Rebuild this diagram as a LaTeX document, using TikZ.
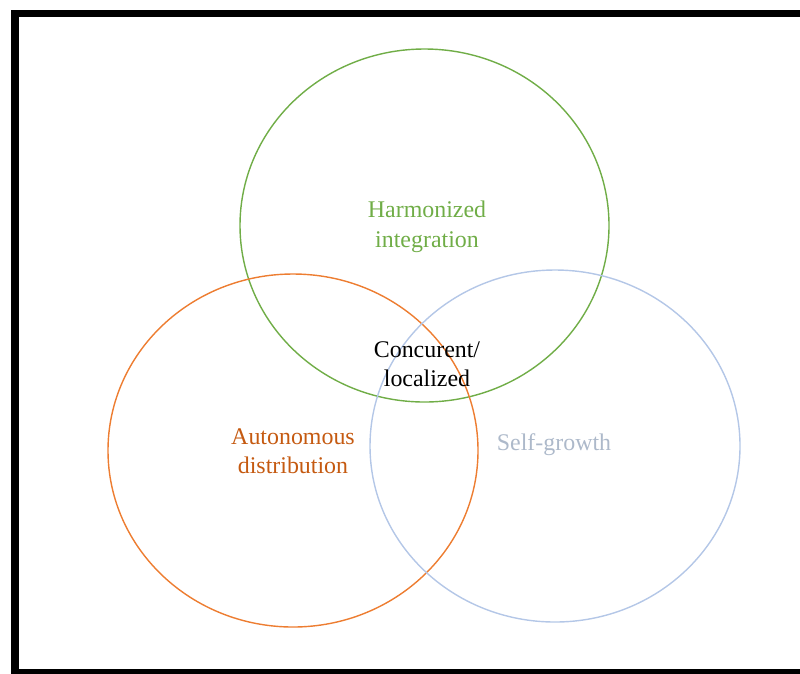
\documentclass[tikz,border=0pt]{standalone}
\usepackage{fontspec}
\setmainfont{Liberation Serif}
\usepackage{tikz}
\definecolor{vgreen}{HTML}{70AD47}
\definecolor{vorange}{HTML}{ED7D31}
\definecolor{vorangetext}{HTML}{C55A11}
\definecolor{vblue}{HTML}{B4C7E7}
\definecolor{vbluetext}{HTML}{ADB9CA}
\tikzset{ring/.style={line width=1pt},
label/.style={align=center, inner sep=0pt, font=\fontsize{17}{21}\selectfont}}

\begin{document}
\begin{tikzpicture}[x=0.025cm,y=-0.025cm]
		\useasboundingbox (0,0) rectangle (800,673);
		\clip (0,0) rectangle (800,673);

		% frame, open on the right
		\draw[black,line width=5.5pt]
		(805,13.5) -- (15,13.5) -- (15,672.5) -- (805,672.5)
		;

		\draw[ring,vgreen] (424.5,225.5) ellipse (184.5 and 176.5);
		\draw[ring,vorange] (293,450.5) ellipse (185 and 176.5);
		\draw[ring,vblue] (555,446) ellipse (185 and 176);

		\node[label,text=vgreen] (harm) at (427,227) {Harmonized\\integration};
		\node[label,text=black] (conc) at (427,364) {Concurent/\\localized};
		\node[label,text=vorangetext] (auto) at (293,451) {Autonomous\\distribution};
		\node[label,text=vbluetext] (self) at (554,445) {Self-growth};

	\end{tikzpicture}
\end{document}
